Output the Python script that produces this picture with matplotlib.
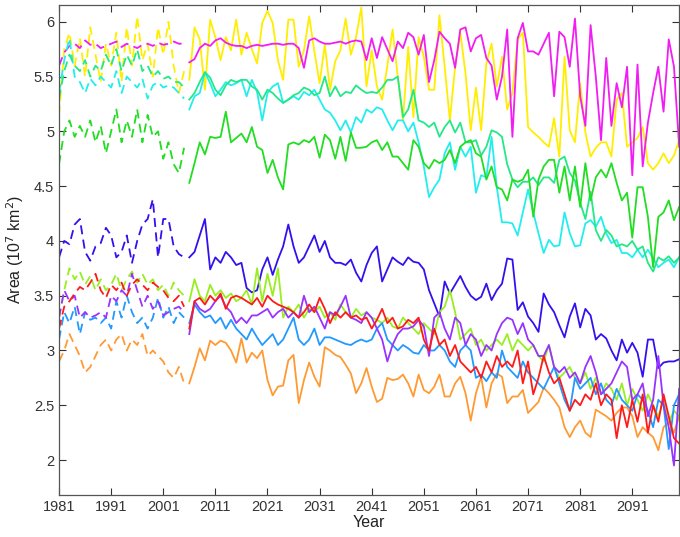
import matplotlib
matplotlib.use("Agg")
import matplotlib.pyplot as plt

years_hist = list(range(1981, 2006))
years_fut = list(range(2006, 2101))

magenta_hist = [5.60, 5.72, 5.78, 5.80, 5.76, 5.83, 5.79, 5.80, 5.76, 5.78,
                5.80, 5.82, 5.77, 5.80, 5.78, 5.76, 5.79, 5.80, 5.78, 5.81,
                5.79, 5.80, 5.82, 5.80, 5.80]
magenta_fut = [5.63, 5.66, 5.76, 5.80, 5.78, 5.83, 5.85, 5.81, 5.79, 5.78,
               5.78, 5.76, 5.78, 5.79, 5.78, 5.79, 5.80, 5.80, 5.79, 5.80,
               5.80, 5.76, 5.58, 5.83, 5.85, 5.82, 5.80, 5.80, 5.81, 5.82,
               5.80, 5.82, 5.83, 5.82, 5.65, 5.85, 5.67, 5.86, 5.75, 5.64,
               5.82, 5.76, 5.90, 5.86, 5.70, 5.88, 5.45, 5.65, 5.91, 5.85,
               5.80, 5.58, 5.93, 5.95, 5.73, 5.85, 5.88, 5.67, 5.60, 5.29,
               5.50, 5.93, 4.95, 5.85, 5.99, 5.73, 5.73, 5.70, 5.80, 5.90,
               5.32, 5.91, 5.86, 5.59, 6.03, 5.32, 5.05, 5.97, 5.50, 4.92,
               5.67, 5.05, 5.44, 5.22, 5.59, 4.60, 5.61, 4.68, 5.08, 5.35,
               5.59, 5.18, 5.84, 5.59, 4.86]

yellow_hist = [5.15, 5.75, 5.90, 5.60, 5.85, 5.50, 5.95, 5.70, 5.45, 5.80,
               5.60, 5.90, 5.45, 5.95, 5.60, 6.05, 5.65, 5.80, 5.50, 5.95,
               5.70, 6.00, 5.60, 5.35, 5.55]
yellow_fut = [5.47, 5.95, 5.84, 5.38, 6.02, 5.86, 5.65, 5.86, 5.74, 6.02,
              5.70, 5.90, 5.75, 5.62, 5.99, 6.10, 5.99, 5.65, 5.47, 6.02,
              6.02, 5.59, 5.74, 6.05, 5.73, 5.44, 5.79, 5.38, 5.64, 5.74,
              6.03, 5.70, 5.86, 6.13, 5.41, 5.74, 5.41, 5.29, 5.60, 5.93,
              5.50, 5.10, 5.77, 5.13, 5.86, 5.68, 5.38, 5.38, 6.06, 5.59,
              5.10, 5.59, 5.90, 5.53, 5.01, 5.40, 5.01, 5.62, 5.80, 5.41,
              5.68, 5.20, 5.35, 5.84, 5.90, 5.04, 4.99, 4.95, 4.90, 4.86,
              5.12, 4.77, 5.68, 5.01, 4.90, 5.44, 4.99, 4.77, 4.85, 4.90,
              4.90, 4.77, 5.29, 5.35, 4.86, 4.90, 4.94, 5.04, 4.71, 4.65,
              4.71, 4.80, 4.71, 4.78, 4.92]

cyan_hist = [5.35, 5.65, 5.85, 5.50, 5.45, 5.35, 5.48, 5.42, 5.50, 5.45,
             5.40, 5.55, 5.35, 5.50, 5.45, 5.40, 5.48, 5.30, 5.42, 5.45,
             5.40, 5.42, 5.40, 5.35, 5.30]
cyan_fut = [5.20, 5.32, 5.35, 5.54, 5.44, 5.32, 5.38, 5.45, 5.42, 5.44,
            5.47, 5.32, 5.47, 5.36, 5.10, 5.35, 5.41, 5.44, 5.26, 5.29,
            5.32, 5.29, 5.36, 5.33, 5.38, 5.29, 5.20, 5.17, 5.10, 5.01,
            5.10, 4.99, 5.13, 5.08, 5.20, 5.17, 5.22, 5.20, 5.10, 5.01,
            5.10, 5.10, 5.00, 5.08, 4.90, 4.68, 4.40, 4.49, 4.56, 4.80,
            4.90, 4.65, 4.86, 4.77, 4.86, 4.44, 4.60, 4.58, 4.95, 4.49,
            4.17, 4.17, 4.16, 4.05, 4.26, 4.47, 4.26, 4.07, 3.89, 4.01,
            3.95, 3.96, 4.26, 4.07, 3.95, 3.96, 4.16, 4.19, 4.13, 4.22,
            4.07, 3.98, 4.01, 3.89, 3.89, 3.85, 3.92, 3.85, 3.92, 3.84,
            3.76, 3.80, 3.83, 3.76, 3.85]

aqua_hist = [5.30, 5.55, 5.70, 5.60, 5.55, 5.65, 5.50, 5.60, 5.55, 5.70,
             5.60, 5.75, 5.55, 5.70, 5.60, 5.75, 5.55, 5.60, 5.50, 5.55,
             5.48, 5.50, 5.45, 5.45, 5.40]
aqua_fut = [5.29, 5.35, 5.45, 5.54, 5.49, 5.38, 5.33, 5.42, 5.47, 5.45,
            5.47, 5.47, 5.41, 5.38, 5.29, 5.38, 5.35, 5.30, 5.26, 5.29,
            5.33, 5.35, 5.40, 5.38, 5.33, 5.35, 5.50, 5.32, 5.41, 5.32,
            5.36, 5.35, 5.42, 5.38, 5.35, 5.36, 5.35, 5.40, 5.47, 5.47,
            5.50, 5.13, 5.20, 5.38, 5.10, 5.08, 5.04, 5.08, 4.95, 5.04,
            5.10, 4.99, 5.08, 4.90, 4.90, 4.92, 4.78, 4.86, 5.01, 4.99,
            4.95, 4.70, 4.56, 4.49, 4.54, 4.54, 4.58, 4.51, 4.58, 4.58,
            4.53, 4.74, 4.77, 4.62, 4.55, 4.35, 4.20, 4.45, 4.10, 4.00,
            4.10, 4.05, 3.95, 3.97, 3.95, 4.00, 3.92, 3.95, 3.80, 3.72,
            3.85, 3.82, 3.86, 3.80, 3.85]

green_hist = [4.70, 5.00, 5.10, 4.95, 5.05, 4.95, 5.10, 4.90, 5.05, 4.80,
              5.00, 5.20, 4.90, 5.10, 4.95, 5.20, 4.90, 5.15, 4.95, 5.00,
              4.75, 4.90, 4.70, 4.62, 4.85]
green_fut = [4.53, 4.71, 4.90, 4.79, 4.95, 4.94, 4.95, 5.18, 4.90, 4.94,
             4.98, 4.90, 5.04, 4.86, 4.83, 4.62, 4.74, 4.58, 4.47, 4.88,
             4.90, 4.88, 4.92, 4.90, 4.95, 4.76, 4.97, 4.92, 4.75, 4.95,
             4.73, 4.99, 4.85, 4.85, 4.86, 4.90, 4.92, 4.83, 4.90, 4.77,
             4.77, 4.71, 4.65, 4.92, 4.86, 4.71, 4.66, 4.74, 4.71, 4.74,
             4.83, 4.71, 4.86, 4.90, 4.92, 4.80, 4.77, 4.56, 4.68, 4.49,
             4.47, 4.37, 4.56, 4.54, 4.56, 4.65, 4.22, 4.56, 4.68, 4.74,
             4.74, 4.44, 4.68, 4.37, 4.68, 4.31, 4.71, 4.37, 4.58, 4.65,
             4.58, 4.71, 4.53, 4.37, 4.44, 4.03, 4.49, 4.49, 4.22, 3.76,
             4.22, 4.26, 4.37, 4.19, 4.31]

blue_hist = [3.85, 4.00, 3.97, 4.15, 4.20, 3.90, 3.82, 3.95, 3.98, 4.12,
             4.05, 3.85, 3.90, 4.05, 3.80, 4.00, 4.15, 4.20, 4.38, 3.85,
             4.20, 4.20, 3.95, 3.88, 3.85]
blue_fut = [3.85, 3.90, 4.05, 4.20, 3.74, 3.85, 3.80, 3.90, 3.85, 3.78,
            3.80, 3.57, 3.53, 3.55, 3.74, 3.85, 3.69, 3.83, 3.95, 4.15,
            3.95, 3.80, 3.85, 3.95, 4.05, 3.90, 4.00, 3.85, 3.80, 3.80,
            3.78, 3.83, 3.71, 3.63, 3.78, 3.89, 3.95, 3.63, 3.74, 3.85,
            3.81, 3.78, 3.85, 3.81, 3.80, 3.74, 3.55, 3.43, 3.31, 3.63,
            3.52, 3.60, 3.68, 3.58, 3.50, 3.46, 3.49, 3.61, 3.46, 3.55,
            3.61, 3.84, 3.83, 3.37, 3.44, 3.31, 3.25, 3.17, 3.52, 3.42,
            3.35, 3.23, 3.12, 3.31, 3.43, 3.21, 3.38, 3.32, 3.10, 3.15,
            3.11, 3.00, 2.91, 3.10, 2.98, 3.07, 2.98, 2.76, 3.10, 3.10,
            2.84, 2.89, 2.90, 2.90, 2.92]

chart_hist = [3.30, 3.55, 3.75, 3.65, 3.72, 3.60, 3.68, 3.55, 3.65, 3.55,
              3.60, 3.70, 3.55, 3.65, 3.72, 3.62, 3.70, 3.60, 3.65, 3.55,
              3.60, 3.50, 3.62, 3.55, 3.50]
chart_fut = [3.45, 3.65, 3.50, 3.45, 3.60, 3.50, 3.55, 3.48, 3.52, 3.45,
             3.48, 3.55, 3.42, 3.75, 3.45, 3.70, 3.50, 3.75, 3.30, 3.40,
             3.35, 3.42, 3.30, 3.38, 3.35, 3.40, 3.30, 3.35, 3.28, 3.42,
             3.35, 3.30, 3.38, 3.32, 3.35, 3.30, 3.28, 3.25, 3.30, 3.22,
             3.20, 3.30, 3.25, 3.20, 3.15, 3.25, 3.20, 3.15, 3.35, 3.40,
             3.55, 3.35, 3.10, 3.15, 3.20, 3.05, 3.10, 3.00, 3.05, 3.10,
             3.05, 3.15, 3.00, 3.10, 3.05, 3.00, 3.05, 2.95, 2.90, 3.05,
             2.85, 2.75, 2.80, 2.85, 2.75, 2.70, 2.80, 2.65, 2.75, 2.60,
             2.70, 2.65, 2.55, 2.70, 2.50, 2.65, 2.55, 2.45, 2.60, 2.50,
             2.40, 2.55, 2.35, 2.45, 2.40]

red_hist = [3.20, 3.40, 3.45, 3.52, 3.58, 3.55, 3.62, 3.70, 3.55, 3.48,
            3.60, 3.55, 3.62, 3.50, 3.60, 3.65, 3.60, 3.55, 3.62, 3.58,
            3.55, 3.48, 3.45, 3.50, 3.40]
red_fut = [3.20, 3.45, 3.48, 3.42, 3.50, 3.45, 3.52, 3.38, 3.48, 3.50,
           3.48, 3.45, 3.42, 3.48, 3.40, 3.50, 3.45, 3.42, 3.40, 3.38,
           3.35, 3.30, 3.35, 3.42, 3.35, 3.48, 3.38, 3.25, 3.35, 3.30,
           3.35, 3.30, 3.32, 3.28, 3.30, 3.20, 3.28, 3.38, 3.25, 3.30,
           3.20, 3.22, 3.28, 3.25, 3.30, 3.10, 3.00, 3.20, 3.05, 3.10,
           2.95, 3.05, 2.90, 2.85, 2.80, 2.85, 2.75, 2.90, 2.80, 2.95,
           2.85, 2.90, 2.85, 3.00, 2.70, 2.90, 2.60, 2.75, 2.95, 2.80,
           2.70, 2.75, 2.60, 2.45, 2.55, 2.50, 2.60, 2.55, 2.70, 2.50,
           2.60, 2.55, 2.20, 2.50, 2.30, 2.55, 2.35, 2.60, 2.25, 2.50,
           2.35, 2.60, 2.40, 2.20, 2.15]

purple_hist = [3.30, 3.55, 3.45, 3.50, 3.30, 3.35, 3.30, 3.32, 3.35, 3.30,
               3.50, 3.45, 3.55, 3.50, 3.70, 3.55, 3.40, 3.50, 3.38, 3.45,
               3.32, 3.35, 3.38, 3.40, 3.35]
purple_fut = [3.15, 3.45, 3.38, 3.35, 3.38, 3.45, 3.50, 3.40, 3.35, 3.25,
              3.30, 3.25, 3.32, 3.32, 3.35, 3.38, 3.30, 3.35, 3.38, 3.30,
              3.35, 3.30, 3.50, 3.35, 3.40, 3.30, 3.20, 3.35, 3.32, 3.40,
              3.50, 3.30, 3.28, 3.25, 3.35, 3.30, 3.20, 3.10, 2.90, 3.05,
              3.15, 3.20, 3.20, 3.22, 3.28, 3.22, 2.95, 3.30, 3.35, 3.20,
              3.10, 3.30, 3.25, 3.05, 3.15, 3.10, 2.95, 3.05, 3.00, 3.15,
              3.25, 3.30, 3.28, 3.15, 3.25, 3.10, 3.05, 2.95, 2.95, 3.05,
              2.85, 2.80, 2.85, 2.75, 2.80, 2.70, 2.85, 2.95, 2.80, 2.60,
              2.65, 2.70, 2.80, 2.90, 2.85, 2.55, 2.60, 2.70, 2.40, 2.55,
              2.95, 2.50, 2.30, 1.95, 2.65]

dblue_hist = [3.10, 3.35, 3.25, 3.40, 3.15, 3.35, 3.28, 3.30, 3.25, 3.30,
              3.20, 3.45, 3.30, 3.50, 3.35, 3.25, 3.30, 3.20, 3.30, 3.48,
              3.30, 3.40, 3.25, 3.35, 3.30]
dblue_fut = [3.25, 3.42, 3.35, 3.30, 3.32, 3.25, 3.30, 3.20, 3.28, 3.20,
             3.15, 3.10, 3.20, 3.12, 3.05, 3.10, 3.15, 3.05, 3.10, 3.20,
             3.30, 3.10, 3.05, 3.10, 3.20, 3.05, 3.12, 3.12, 3.10, 3.08,
             3.06, 3.05, 3.08, 3.10, 3.08, 3.10, 3.20, 3.25, 3.10, 3.05,
             3.00, 3.05, 3.02, 2.98, 2.97, 3.05, 3.00, 3.00, 3.05, 3.00,
             2.90, 2.85, 3.00, 3.05, 3.00, 2.75, 2.78, 2.72, 2.80, 2.75,
             3.00, 2.85, 2.80, 2.75, 2.90, 2.80, 2.75, 2.70, 2.65, 2.75,
             2.85, 2.70, 2.55, 2.45, 2.75, 2.65, 2.70, 2.75, 2.60, 2.70,
             2.55, 2.50, 2.65, 2.55, 2.50, 2.45, 2.60, 2.55, 2.45, 2.30,
             2.55, 2.50, 2.10, 2.50, 2.60]

orange_hist = [2.90, 3.00, 3.15, 3.05, 2.95, 2.80, 2.85, 2.95, 3.05, 3.10,
               3.00, 3.10, 3.15, 3.00, 3.10, 3.05, 3.15, 2.95, 3.00, 2.95,
               2.90, 2.80, 2.75, 2.85, 2.70]
orange_fut = [2.70, 2.85, 3.02, 2.91, 3.09, 3.05, 3.09, 3.07, 3.00, 2.89,
              3.11, 2.89, 2.98, 2.93, 3.00, 2.73, 2.59, 2.67, 2.68, 2.91,
              2.96, 2.52, 2.73, 2.89, 2.76, 2.67, 3.03, 3.00, 2.96, 2.94,
              2.87, 2.79, 2.61, 2.70, 2.84, 2.67, 2.53, 2.56, 2.75, 2.73,
              2.74, 2.78, 2.70, 2.58, 2.78, 2.64, 2.61, 2.67, 2.78, 2.58,
              2.58, 2.70, 2.76, 2.61, 2.36, 2.61, 2.76, 2.48, 2.70, 2.79,
              2.76, 2.52, 2.58, 2.58, 2.64, 2.43, 2.48, 2.53, 2.66, 2.61,
              2.55, 2.48, 2.30, 2.21, 2.30, 2.36, 2.25, 2.21, 2.46, 2.43,
              2.40, 2.36, 2.43, 2.48, 2.48, 2.40, 2.21, 2.30, 2.25, 2.21,
              2.09, 2.30, 2.35, 2.25, 2.40]

series = [
    ("#FFEE00", yellow_hist, yellow_fut),
    ("#F21DF2", magenta_hist, magenta_fut),
    ("#22EEEE", cyan_hist, cyan_fut),
    ("#22E888", aqua_hist, aqua_fut),
    ("#22DD22", green_hist, green_fut),
    ("#3311EE", blue_hist, blue_fut),
    ("#99EE22", chart_hist, chart_fut),
    ("#FF9A33", orange_hist, orange_fut),
    ("#2299FF", dblue_hist, dblue_fut),
    ("#9933FF", purple_hist, purple_fut),
    ("#FF1A1A", red_hist, red_fut),
]

plt.rcParams['font.family'] = ['Liberation Sans', 'DejaVu Sans']

fig = plt.figure(figsize=(6.8, 5.37), dpi=100)
ax = fig.add_axes([0.0868, 0.078, 0.912, 0.913])

for color, h, f in series:
    ax.plot(years_hist, h, color=color, lw=1.3, dashes=(5, 3))
    ax.plot(years_fut, f, color=color, lw=1.3)

ax.set_xlim(1981, 2100)
ax.set_ylim(1.68, 6.155)
ax.set_xticks(list(range(1981, 2100, 10)))
ax.set_yticks([2, 2.5, 3, 3.5, 4, 4.5, 5, 5.5, 6])
ax.set_yticklabels(["2", "2.5", "3", "3.5", "4", "4.5", "5", "5.5", "6"])
ax.tick_params(direction='in', top=True, right=True, labelsize=10.5,
               length=5, width=0.8, colors='#333333')
for s in ax.spines.values():
    s.set_color('#555555')
    s.set_linewidth(0.9)
ax.set_xlabel("Year", fontsize=11.5, color='#222222', labelpad=1)
ax.set_ylabel("Area (10$^7$ km$^2$)", fontsize=11.5, color='#222222', labelpad=6)

fig.savefig("out.png", dpi=100)
